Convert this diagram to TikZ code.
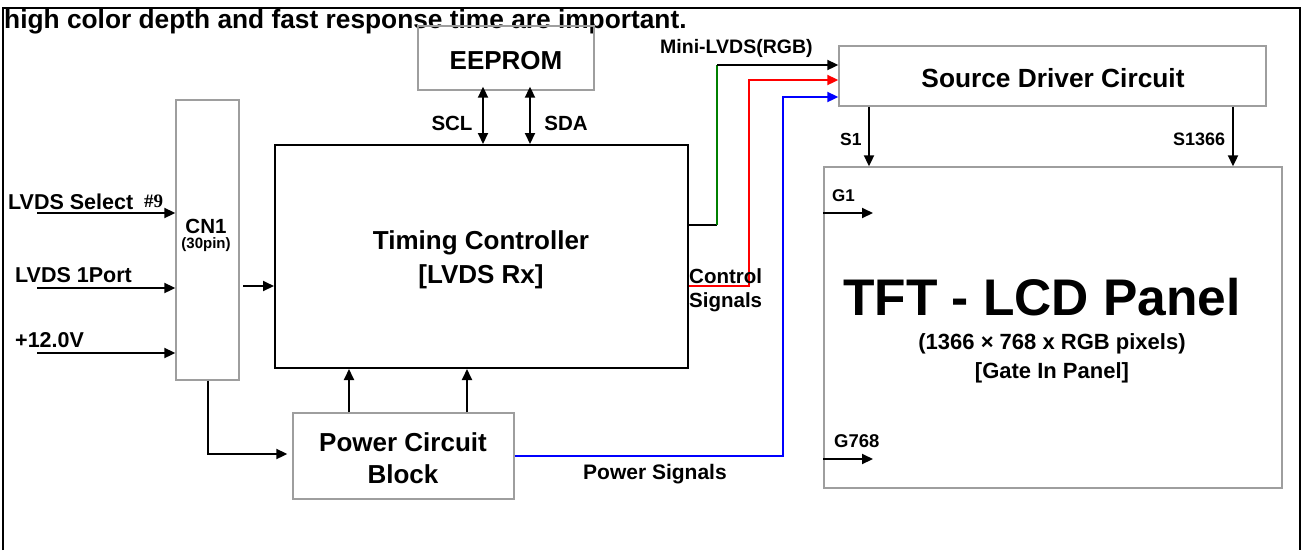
\documentclass[tikz,border=0pt]{standalone}
\usepackage{fontspec}
\setmainfont{Liberation Sans}
\newfontfamily\serifbold{Liberation Serif}
\usetikzlibrary{arrows.meta}
\newcommand{\fsz}[1]{\fontsize{#1}{#1}\selectfont\bfseries}
\definecolor{lgreen}{RGB}{0,128,0}
\begin{document}
\begin{tikzpicture}[x=1pt,y=-1pt,
  box/.style={draw=black!38,line width=1.4pt,inner sep=0pt},
  lbl/.style={inner sep=0pt,anchor=base west},
  clbl/.style={inner sep=0pt,anchor=base},
  arr/.style={line width=2pt,-{Triangle[length=11pt,width=10pt]}},
  darr/.style={line width=2pt,{Triangle[length=11pt,width=10pt]}-{Triangle[length=11pt,width=10pt]}},
  wire/.style={line width=2pt}]
\useasboundingbox (0,0) rectangle (1304,550);
% outer frame
\draw[line width=2.8pt] (3,550) -- (3,8) -- (1300,8) -- (1300,550);
\node[lbl,font=\fsz{26.3}] (title) at (4,28) {high color depth and fast response time are important.};

% boxes
\node[box,minimum width=176pt,minimum height=64pt] (eeprom) at (506,58) {};
\node[draw,line width=2pt,inner sep=0pt,minimum width=413pt,minimum height=223pt] (tcon) at (481.5,256.5) {};
\node[box,minimum width=63pt,minimum height=280pt] (cn1) at (207.5,240) {};
\node[box,minimum width=221pt,minimum height=86pt] (power) at (403.5,456) {};
\node[box,minimum width=427pt,minimum height=60pt] (sdc) at (1052.5,76) {};
\node[box,minimum width=458pt,minimum height=321pt] (tft) at (1053,327.5) {};

% box texts
\node[clbl,font=\fsz{26}] (eet) at (506,69) {EEPROM};
\node[clbl,font=\fsz{26}] (tct1) at (481,249) {Timing Controller};
\node[clbl,font=\fsz{26}] (tct2) at (481,283) {[LVDS Rx]};
\node[clbl,font=\fsz{20.5}] (cnt1) at (206,233) {CN1};
\node[clbl,font=\fsz{15}] (cnt2) at (206,248) {(30pin)};
\node[clbl,font=\fsz{26}] (pwt1) at (403,451) {Power Circuit};
\node[clbl,font=\fsz{26}] (pwt2) at (403,483) {Block};
\node[clbl,font=\fsz{26.3}] (sdct) at (1053,87) {Source Driver Circuit};
\node[clbl,font=\fsz{51.5}] (tftt1) at (1042,315) {TFT - LCD Panel};
\node[clbl,font=\fsz{22}] (tftt2) at (1052,349) {(1366 \texttimes{} 768 x RGB pixels)};
\node[clbl,font=\fsz{22}] (tftt3) at (1052,378) {[Gate In Panel]};

% inputs
\coordinate (in1) at (37,213);
\coordinate (in2) at (37,288);
\coordinate (in3) at (37,353);
\draw[arr] (in1) -- (in1 -| cn1.west);
\draw[arr] (in2) -- (in2 -| cn1.west);
\draw[arr] (in3) -- (in3 -| cn1.west);
\node[lbl,font=\fsz{21.5}] (l1) at (8,209) {LVDS Select};
\node[lbl,font=\fontsize{19}{19}\selectfont\serifbold\bfseries] (l1b) at (144,207) {\#9};
\node[lbl,font=\fsz{21.5}] (l2) at (15,282) {LVDS 1Port};
\node[lbl,font=\fsz{21.5}] (l3) at (15,347) {+12.0V};

% CN1 -> TCON
\coordinate (c1) at (243,286);
\draw[arr] (c1) -- (c1 -| tcon.west);
% CN1 -> Power
\coordinate (c2) at (208,454);
\draw[arr] (c2 |- cn1.south) -- (c2) -- ([xshift=-5pt]c2 -| power.west);
% Power -> TCON
\coordinate (p1) at (349,413);
\coordinate (p2) at (467,413);
\draw[arr] (p1 |- power.north) -- (p1 |- tcon.south);
\draw[arr] (p2 |- power.north) -- (p2 |- tcon.south);

% EEPROM bus
\coordinate (e1) at (483,120);
\coordinate (e2) at (530,120);
\draw[darr] ([yshift=4pt]e1 |- eeprom.south) -- (e1 |- tcon.north);
\draw[darr] ([yshift=4pt]e2 |- eeprom.south) -- (e2 |- tcon.north);
\node[clbl,font=\fsz{20.5}] (scl) at (452,130) {SCL};
\node[clbl,font=\fsz{20.5}] (sda) at (566,130) {SDA};

% Mini-LVDS to source driver
\coordinate (g0) at (717,225);
\coordinate (g1) at (717,65);
\draw[wire] (g0 -| tcon.east) -- (g0);
\draw[wire,lgreen] (g0) -- (g1);
\draw[arr] (g1) -- (g1 -| sdc.west);
\coordinate (r0) at (749,286);
\coordinate (r1) at (749,80);
\draw[arr,red] (r0 -| tcon.east) -- (r0) -- (r1) -- (r1 -| sdc.west);
\coordinate (b0) at (783,456);
\coordinate (b1) at (783,97);
\draw[arr,blue] (b0 -| power.east) -- (b0) -- (b1) -- (b1 -| sdc.west);
\node[lbl,font=\fsz{19.5}] (mini) at (660,53) {Mini-LVDS(RGB)};
\node[lbl,font=\fsz{20.5}] (ctl1) at (689,283) {Control};
\node[lbl,font=\fsz{20.5}] (ctl2) at (689,307) {Signals};
\node[lbl,font=\fsz{21}] (pws) at (583,479) {Power Signals};

% source driver -> panel
\coordinate (s1) at (869,130);
\coordinate (s2) at (1233,130);
\draw[arr] (s1 |- sdc.south) -- (s1 |- tft.north);
\draw[arr] (s2 |- sdc.south) -- (s2 |- tft.north);
\node[lbl,font=\fsz{17.5}] (s1l) at (840,145) {S1};
\node[lbl,font=\fsz{18}] (s2l) at (1173,145) {S1366};

% gate lines
\coordinate (gl1) at (873,213);
\coordinate (gl2) at (873,459);
\draw[arr] (gl1 -| tft.west) -- (gl1);
\draw[arr] (gl2 -| tft.west) -- (gl2);
\node[lbl,font=\fsz{17}] (g1l) at (832,201) {G1};
\node[lbl,font=\fsz{18.5}] (g2l) at (834,447) {G768};
\end{tikzpicture}
\end{document}
